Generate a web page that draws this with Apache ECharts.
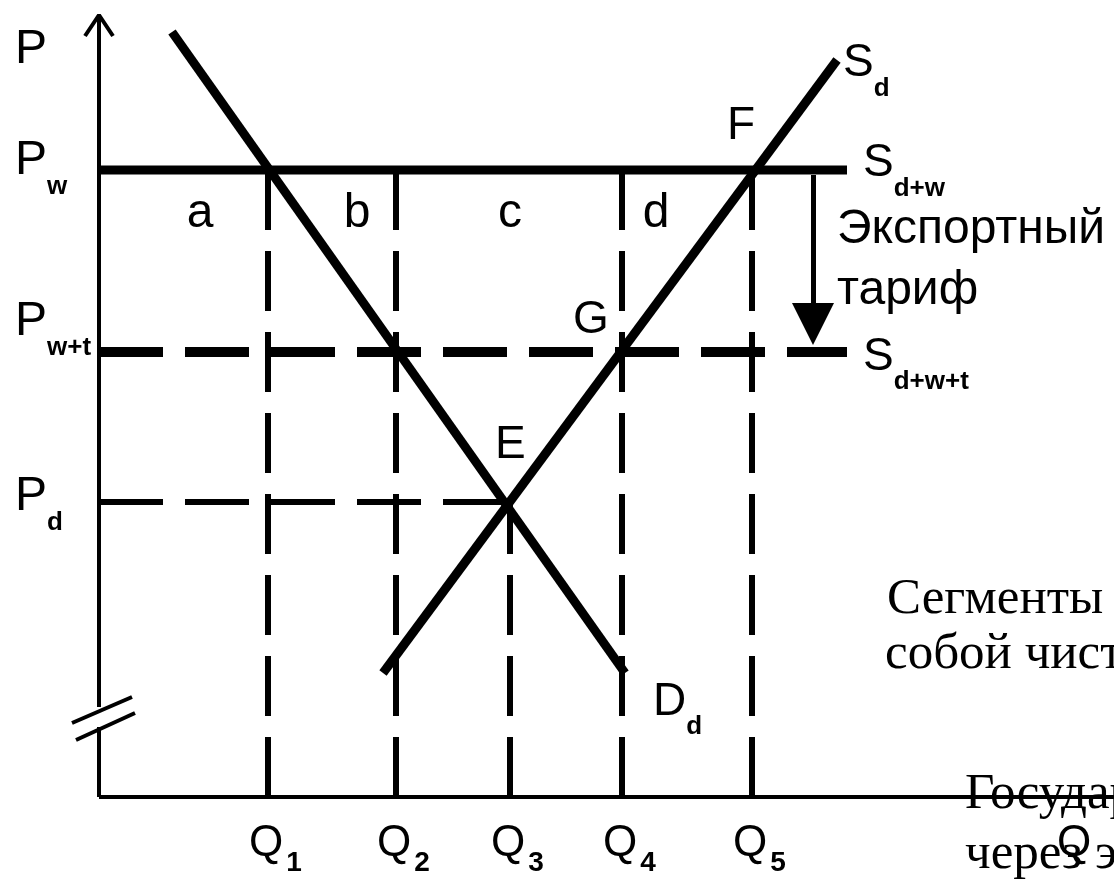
<!DOCTYPE html>
<html>
<head>
    <meta charset="utf-8">
    <title>Экспортный тариф</title>
    <script src="https://cdn.jsdelivr.net/npm/echarts@6/dist/echarts.min.js"></script>
    <style>
        html, body { margin: 0; padding: 0; background: #fff; }
        #main { width: 1114px; height: 879px; }
    </style>
</head>
<body>
<div id="main"></div>
<script type="text/javascript">
    // значения диаграммы (условные единицы)
    var qTicks = [16.9, 29.7, 41.1, 52.3, 65.3];
    var qSubs = ['1', '2', '3', '4', '5'];
    var qAxisName = 97.5;
    var pTicks = [29.5, 44.5, 62.7];          // Pd, Pw+t, Pw
    var pSubs = ['d', 'w+t', 'w'];
    var demand = [[7.3, 76.5], [52.6, 12.4]];
    var supply = [[28.4, 12.4], [73.8, 73.7]];
    var worldLineEnd = 74.8;
    var qTops = [62.7, 62.7, 29.5, 62.7, 62.7]; // где кончаются пунктиры
    var segLetters = ['a', 'b', 'c', 'd'];
    var segX = [10.1, 25.8, 41.1, 55.7];
    var tariffX = 71.4;
    var xAxisEnd = 101.5;
    var yAxisTop = 78.2;
    var yBreak = [7.0, 9.0];

    var pd = pTicks[0], pwt = pTicks[1], pw = pTicks[2];
    var E = [qTicks[2], pd], G = [qTicks[3], pwt], F = [qTicks[4], pw];

    var FONT = '"Liberation Sans", Arial, sans-serif';

    function seg(data, width, dash) {
        return {
            type: 'line', data: data, symbol: 'none', clip: false, silent: true,
            animation: false,
            lineStyle: { color: '#000', width: width, type: dash || 'solid', cap: 'butt' }
        };
    }

    var series = [];
    series.push(seg(demand, 9));
    series.push(seg(supply, 9));
    series.push(seg([[0, pw], [worldLineEnd, pw]], 9));
    series.push(seg([[0, pwt], [worldLineEnd, pwt]], 10, [64, 22]));
    series.push(seg([[0, pd], [E[0], pd]], 6, [64, 22]));
    qTicks.forEach(function (q, i) {
        series.push(seg([[q, 0], [q, qTops[i]]], 6, [60, 21]));
    });
    // оси: Q и P (с разрывом и стрелкой)
    series.push(seg([[0, 0], [xAxisEnd, 0]], 4));
    series.push(seg([[0, 0], [0, yBreak[0]]], 4));
    series.push(seg([[0, yBreak[1]], [0, yAxisTop]], 4));
    series.push(seg([[-1.4, yAxisTop - 2.1], [0, yAxisTop], [1.4, yAxisTop - 2.1]], 4));
    series.push(seg([[-2.7, 7.4], [3.3, 10.0]], 4));
    series.push(seg([[-2.3, 5.7], [3.6, 8.4]], 4));
    // стрелка тарифа
    var arrow = seg([], 5);
    arrow.markLine = {
        silent: true, animation: false,
        symbol: ['none', 'triangle'], symbolSize: 42,
        label: { show: false },
        lineStyle: { color: '#000', width: 5, type: 'solid' },
        data: [[{ coord: [tariffX, pw - 0.5] }, { coord: [tariffX, pwt + 2.8] }]]
    };
    series.push(arrow);

    var chart = echarts.init(document.getElementById('main'));
    chart.setOption({
        animation: false,
        backgroundColor: '#fff',
        grid: { left: 0, right: 0, top: 0, bottom: 82 },
        xAxis: {
            type: 'value', min: -9.9, max: 101.5,
            splitLine: { show: false },
            axisTick: { show: false },
            axisLine: { show: false },
            axisLabel: {
                customValues: qTicks.concat([qAxisName]),
                margin: 36,
                formatter: function (v) {
                    if (v === qAxisName) return '{qn|Q}';
                    var i = qTicks.indexOf(v);
                    return '{q|Q}{s|' + qSubs[i] + '}';
                },
                rich: {
                    q: { fontSize: 44, lineHeight: 44, fontFamily: FONT, color: '#000',
                        verticalAlign: 'bottom', padding: [0, 0, 11, 15] },
                    qn: { fontSize: 44, lineHeight: 44, fontFamily: FONT, color: '#000',
                        verticalAlign: 'bottom', padding: [0, 0, 11, 0] },
                    s: { fontSize: 28, lineHeight: 28, fontFamily: FONT, fontWeight: 'bold', color: '#000',
                        verticalAlign: 'bottom', padding: [0, 0, 0, 3] }
                }
            }
        },
        yAxis: {
            type: 'value', min: 0, max: 79.7, show: false
        },
        series: series
    });

    // подписи на диаграмме
    function px(pt) { return chart.convertToPixel({ gridIndex: 0 }, pt); }
    function txt(pt, dx, dy, text, size) {
        var p = px(pt);
        return { type: 'text', z: 100, x: p[0] + dx, y: p[1] + dy, silent: true,
            style: { text: text, fontSize: size, fontFamily: FONT, fill: '#000',
                align: 'left', verticalAlign: 'middle' } };
    }
    function subTxt(pt, dx, dy, main, sub, size) {
        var p = px(pt);
        var rich = {
            m: { fontSize: size, lineHeight: size, fontFamily: FONT, color: '#000',
                verticalAlign: 'bottom', padding: [0, 0, 15, 0] },
            s: { fontSize: 26, lineHeight: 26, fontFamily: FONT, fontWeight: 'bold', color: '#000',
                verticalAlign: 'bottom' }
        };
        return { type: 'text', z: 100, x: p[0] + dx, y: p[1] + dy, silent: true,
            style: { text: '{m|' + main + '}{s|' + sub + '}', rich: rich,
                align: 'left', verticalAlign: 'middle' } };
    }
    function slideTxt(x, y, text) {
        return { type: 'text', z: 100, x: x, y: y, silent: true,
            style: { text: text, fontSize: 51, fontFamily: '"Liberation Serif", "Times New Roman", serif',
                fill: '#000', align: 'left', verticalAlign: 'middle' } };
    }

    var graphics = [];
    // подписи оси P
    var pDy = [10, -15.5, 6];
    pTicks.forEach(function (v, i) {
        graphics.push(subTxt([0, v], -84, pDy[i], 'P', pSubs[i], 48));
    });
    graphics.push(txt([0, yAxisTop], -84, 35, 'P', 48));

    graphics.push(txt(E, -15, -57, 'E', 46));
    graphics.push(txt(F, -25, -44, 'F', 46));
    graphics.push(txt(G, -49, -32, 'G', 46));
    segLetters.forEach(function (s, i) {
        var g = txt([segX[i], pw], 0, 44, s, 48);
        g.style.align = 'center';
        graphics.push(g);
    });
    graphics.push(subTxt(demand[1], 28, 44, 'D', 'd', 46));
    graphics.push(subTxt(supply[1], 6, 18.5, 'S', 'd', 46));
    graphics.push(subTxt([worldLineEnd, pw], 16, 8.5, 'S', 'd+w', 46));
    graphics.push(subTxt([worldLineEnd, pwt], 16, 20, 'S', 'd+w+t', 46));
    graphics.push(txt([tariffX, pw], 24, 59.5, 'Экспортный', 48));
    graphics.push(txt([tariffX, pw], 24, 121, 'тариф', 48));

    graphics.push(slideTxt(887, 600, 'Сегменты b и d представляют'));
    graphics.push(slideTxt(885, 655, 'собой чистые потери'));
    graphics.push(slideTxt(965, 795, 'Государство получает доход'));
    graphics.push(slideTxt(965, 855, 'через экспортный тариф'));

    chart.setOption({ graphic: graphics });
</script>
</body>
</html>
